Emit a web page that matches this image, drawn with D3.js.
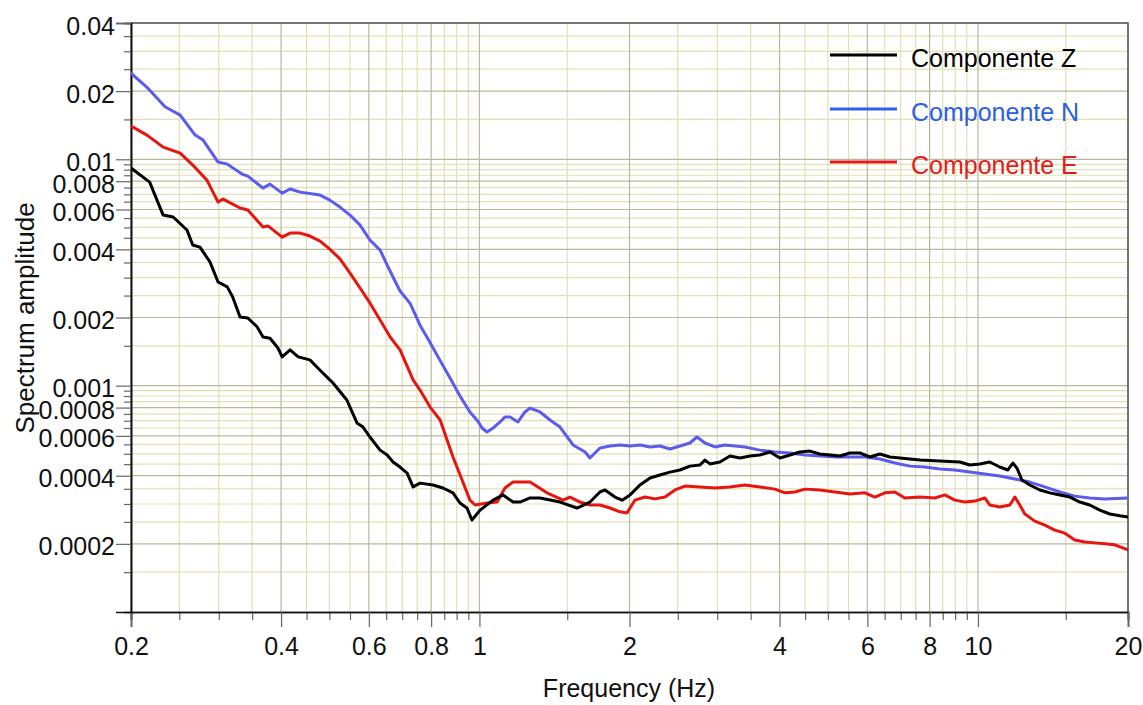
<!DOCTYPE html>
<html>
<head>
<meta charset="utf-8">
<script src="https://cdn.jsdelivr.net/npm/d3@7"></script>
<style>
  html, body { margin: 0; padding: 0; background: #ffffff; }
  svg { display: block; }
  text { font-family: "Liberation Sans", Arial, Helvetica, sans-serif; }
</style>
</head>
<body>
<svg id="chart" width="1143" height="705"></svg>
<script>
// ---------------- DATA ----------------
const seriesNames = ["Componente Z", "Componente N", "Componente E"];

const freqZ = [0.2,0.218,0.232,0.243,0.259,0.266,0.275,0.288,0.299,0.312,0.320,0.331,0.343,0.358,0.368,0.380,0.394,0.402,0.417,0.433,0.457,0.479,0.501,0.508,0.542,0.568,0.584,0.603,0.632,0.653,0.671,0.693,0.716,0.736,0.760,0.807,0.845,0.885,0.914,0.944,0.966,1.003,1.065,1.115,1.168,1.206,1.263,1.323,1.451,1.569,1.666,1.745,1.786,1.870,1.933,2.005,2.099,2.199,2.302,2.411,2.525,2.644,2.769,2.834,2.900,3.037,3.181,3.331,3.489,3.653,3.826,4.007,4.196,4.394,4.602,4.819,5.047,5.286,5.535,5.797,6.071,6.358,6.658,6.973,7.647,8.387,9.198,9.633,10.09,10.56,11.06,11.48,11.75,11.97,12.25,12.71,13.31,13.94,14.60,15.29,16.01,16.76,17.56,18.39,19.25,20.0];
const ampZ  = [0.00915,0.00793,0.00567,0.00556,0.00487,0.00418,0.00409,0.00352,0.00287,0.00273,0.00246,0.00201,0.00199,0.00182,0.00164,0.00162,0.00147,0.00134,0.00144,0.00134,0.00130,0.00117,0.00106,0.00103,0.000864,0.000684,0.000656,0.000593,0.000519,0.000494,0.000460,0.000437,0.000411,0.000357,0.000371,0.000364,0.000353,0.000336,0.000303,0.000288,0.000255,0.000282,0.000312,0.000329,0.000306,0.000306,0.000319,0.000319,0.000306,0.000288,0.000306,0.000339,0.000346,0.000322,0.000312,0.000329,0.000364,0.000391,0.000403,0.000415,0.000424,0.000441,0.000446,0.000469,0.000451,0.000460,0.000489,0.000479,0.000489,0.000494,0.000509,0.000479,0.000494,0.000509,0.000514,0.000499,0.000494,0.000489,0.000504,0.000504,0.000484,0.000499,0.000484,0.000479,0.000469,0.000465,0.000460,0.000446,0.000451,0.000460,0.000437,0.000424,0.000455,0.000433,0.000383,0.000364,0.000346,0.000336,0.000329,0.000322,0.000306,0.000297,0.000282,0.000271,0.000266,0.000263];

const freqN = [0.2,0.2153,0.234,0.251,0.269,0.279,0.299,0.312,0.334,0.343,0.368,0.380,0.402,0.417,0.437,0.479,0.501,0.525,0.550,0.576,0.603,0.632,0.653,0.677,0.693,0.726,0.760,0.796,0.834,0.873,0.914,0.957,0.994,1.012,1.036,1.065,1.100,1.125,1.152,1.195,1.234,1.263,1.323,1.385,1.451,1.541,1.629,1.666,1.745,1.828,1.914,2.005,2.099,2.199,2.302,2.411,2.525,2.644,2.731,2.834,2.968,3.108,3.255,3.409,3.653,3.915,4.196,4.497,4.819,5.165,5.535,5.932,6.358,6.813,7.302,7.826,8.387,8.988,9.633,10.32,11.06,11.86,12.71,13.62,14.60,15.64,16.76,17.97,20.0];
const ampN  = [0.0240,0.0208,0.01706,0.01568,0.01279,0.01216,0.00972,0.00952,0.00860,0.00843,0.00746,0.00777,0.00709,0.00739,0.00716,0.00695,0.00660,0.00615,0.00567,0.00512,0.00440,0.00397,0.00341,0.00290,0.00262,0.00231,0.00185,0.00155,0.00129,0.00108,0.000900,0.000765,0.000695,0.000650,0.000624,0.000650,0.000691,0.000727,0.000727,0.000691,0.000765,0.000796,0.000765,0.000705,0.000656,0.000547,0.000509,0.000479,0.000530,0.000541,0.000547,0.000541,0.000547,0.000536,0.000541,0.000525,0.000541,0.000558,0.000593,0.000558,0.000536,0.000547,0.000541,0.000536,0.000519,0.000509,0.000504,0.000494,0.000489,0.000484,0.000484,0.000484,0.000474,0.000455,0.000441,0.000437,0.000428,0.000424,0.000415,0.000407,0.000399,0.000387,0.000375,0.000357,0.000339,0.000325,0.000319,0.000316,0.000319];

const freqE = [0.2,0.2153,0.232,0.251,0.266,0.284,0.299,0.306,0.331,0.343,0.368,0.377,0.402,0.417,0.437,0.457,0.479,0.501,0.525,0.550,0.576,0.603,0.632,0.662,0.693,0.736,0.760,0.796,0.834,0.885,0.923,0.957,0.980,1.036,1.085,1.125,1.168,1.263,1.366,1.471,1.519,1.591,1.666,1.745,1.828,1.914,1.977,2.051,2.148,2.250,2.356,2.468,2.584,2.769,2.968,3.181,3.409,3.653,3.915,4.100,4.294,4.497,4.819,5.165,5.535,5.932,6.212,6.506,6.813,7.135,7.647,8.195,8.583,8.988,9.413,9.858,10.32,10.56,11.06,11.59,11.86,12.13,12.42,13.00,13.62,14.26,14.94,15.64,16.38,17.16,17.97,18.81,20.0];
const ampE  = [0.01402,0.01279,0.01132,0.01065,0.00943,0.00809,0.00647,0.00667,0.00609,0.00597,0.00502,0.00507,0.00453,0.00472,0.00472,0.00458,0.00435,0.00401,0.00363,0.00314,0.00270,0.00232,0.00195,0.00164,0.00144,0.00106,0.000956,0.000804,0.000705,0.000484,0.000383,0.000312,0.000297,0.000303,0.000306,0.000353,0.000375,0.000375,0.000336,0.000312,0.000322,0.000306,0.000297,0.000297,0.000288,0.000277,0.000274,0.000312,0.000322,0.000316,0.000322,0.000346,0.000360,0.000357,0.000353,0.000357,0.000364,0.000357,0.000349,0.000336,0.000339,0.000349,0.000346,0.000339,0.000332,0.000336,0.000322,0.000336,0.000339,0.000319,0.000322,0.000319,0.000329,0.000312,0.000306,0.000309,0.000319,0.000297,0.000291,0.000297,0.000322,0.000297,0.000271,0.000252,0.000242,0.000230,0.000223,0.000208,0.000204,0.000202,0.000200,0.000198,0.000188];

const xTickLabels = [0.2, 0.4, 0.6, 0.8, 1, 2, 4, 6, 8, 10, 20];
const xMinorTicks = [0.25,0.3,0.35,0.45,0.5,0.55,0.65,0.7,0.75,0.85,0.9,0.95,1.5,2.5,3,3.5,4.5,5,5.5,6.5,7,7.5,8.5,9,9.5,15];
const yTickLabels = [0.04, 0.02, 0.01, 0.008, 0.006, 0.004, 0.002, 0.001, 0.0008, 0.0006, 0.0004, 0.0002];
const yMinorTicks = [0.035,0.03,0.025,0.015,0.0095,0.009,0.0085,0.0075,0.007,0.0065,0.0055,0.005,0.0045,0.0035,0.003,0.0025,0.0015,0.00095,0.0009,0.00085,0.00075,0.0007,0.00065,0.00055,0.0005,0.00045,0.00035,0.0003,0.00025,0.00015];

const xTitle = "Frequency (Hz)";
const yTitle = "Spectrum amplitude";

// ---------------- LAYOUT ----------------
const svg = d3.select("#chart");
const L = 131, R = 1128, T = 23, B = 612;

const x = d3.scaleLog().domain([0.2, 20]).range([L, R]);
const y = d3.scaleLog().domain([0.0001, 0.04]).range([B, T]);

svg.append("rect").attr("width", 1143).attr("height", 705).attr("fill", "#ffffff");

const minorGrid = "#e2e0b4";
const majorGrid = "#b9b89a";

// gridlines
const grid = svg.append("g");
grid.selectAll("line.vmin").data(xMinorTicks).join("line")
  .attr("x1", d => x(d)).attr("x2", d => x(d)).attr("y1", T).attr("y2", B)
  .attr("stroke", minorGrid).attr("stroke-width", 1.2);
grid.selectAll("line.hmin").data(yMinorTicks).join("line")
  .attr("x1", L).attr("x2", R).attr("y1", d => y(d)).attr("y2", d => y(d))
  .attr("stroke", minorGrid).attr("stroke-width", 1.2);
grid.selectAll("line.vmaj").data(xTickLabels).join("line")
  .attr("x1", d => x(d)).attr("x2", d => x(d)).attr("y1", T).attr("y2", B)
  .attr("stroke", majorGrid).attr("stroke-width", 1.2);
grid.selectAll("line.hmaj").data(yTickLabels).join("line")
  .attr("x1", L).attr("x2", R).attr("y1", d => y(d)).attr("y2", d => y(d))
  .attr("stroke", majorGrid).attr("stroke-width", 1.2);

// plot frame (top/right)
svg.append("path")
  .attr("d", `M${L},${T}H${R}V${B}`)
  .attr("fill", "none").attr("stroke", "#555").attr("stroke-width", 1.5);

// axes
const fmt = d => String(d);
const xMinorAxis = d3.axisBottom(x).tickValues(xMinorTicks).tickSize(8).tickFormat("");
const xMajorAxis = d3.axisBottom(x).tickValues(xTickLabels).tickSize(15).tickPadding(10).tickFormat(fmt);
const yMinorAxis = d3.axisLeft(y).tickValues(yMinorTicks).tickSize(7).tickFormat("");
const yMajorAxis = d3.axisLeft(y).tickValues(yTickLabels).tickSize(15).tickPadding(1).tickFormat(fmt);

function styleAxis(g) {
  g.select(".domain").attr("stroke", "#111").attr("stroke-width", 1.6);
  g.selectAll(".tick line").attr("stroke", "#666").attr("stroke-width", 1.2);
  g.selectAll(".tick text").attr("fill", "#111").attr("font-size", 25)
    .attr("font-family", "'Liberation Sans', Arial, sans-serif");
}
svg.append("g").attr("transform", `translate(0,${B})`).call(xMinorAxis).call(styleAxis);
svg.append("g").attr("transform", `translate(0,${B})`).call(xMajorAxis).call(styleAxis);
svg.append("g").attr("transform", `translate(${L},0)`).call(yMinorAxis).call(styleAxis);
const yAx = svg.append("g").attr("transform", `translate(${L},0)`).call(yMajorAxis).call(styleAxis);
yAx.selectAll(".tick text").attr("dy", "0.44em");

// titles
svg.append("text").attr("x", 629).attr("y", 697).attr("text-anchor", "middle")
  .attr("font-size", 25).attr("fill", "#111").text(xTitle);
svg.append("text").attr("transform", "translate(34,318) rotate(-90)").attr("text-anchor", "middle")
  .attr("font-size", 26).attr("fill", "#111").text(yTitle);

// lines
const series = [
  { name: seriesNames[0], f: freqZ, a: ampZ, color: "#000000", legendColor: "#000000", textColor: "#000000" },
  { name: seriesNames[1], f: freqN, a: ampN, color: "#5b5bee", legendColor: "#2f62e6", textColor: "#2a5fe3" },
  { name: seriesNames[2], f: freqE, a: ampE, color: "#e8150f", legendColor: "#e01818", textColor: "#e41b1b" }
];

svg.append("clipPath").attr("id", "plotclip").append("rect")
  .attr("x", L).attr("y", T).attr("width", R - L).attr("height", B - T);

const line = d3.line().x(d => x(d[0])).y(d => y(d[1])).curve(d3.curveLinear);
const plot = svg.append("g").attr("clip-path", "url(#plotclip)");
// draw order: Z first (under), then N, then E? draw E, Z, N
[series[1], series[2], series[0]].forEach(s => {
  plot.append("path")
    .datum(s.f.map((f, i) => [f, s.a[i]]))
    .attr("d", line)
    .attr("fill", "none")
    .attr("stroke", s.color)
    .attr("stroke-width", 3)
    .attr("stroke-linejoin", "round")
    .attr("stroke-linecap", "round");
});

// legend
const legY = [55, 109, 162];
const leg = svg.append("g");
series.forEach((s, i) => {
  leg.append("line").attr("x1", 830).attr("x2", 897).attr("y1", legY[i]).attr("y2", legY[i])
    .attr("stroke", s.legendColor).attr("stroke-width", 3);
  leg.append("text").attr("x", 911).attr("y", legY[i] + 12)
    .attr("font-size", 25).attr("fill", s.textColor).text(s.name);
});
</script>
</body>
</html>
